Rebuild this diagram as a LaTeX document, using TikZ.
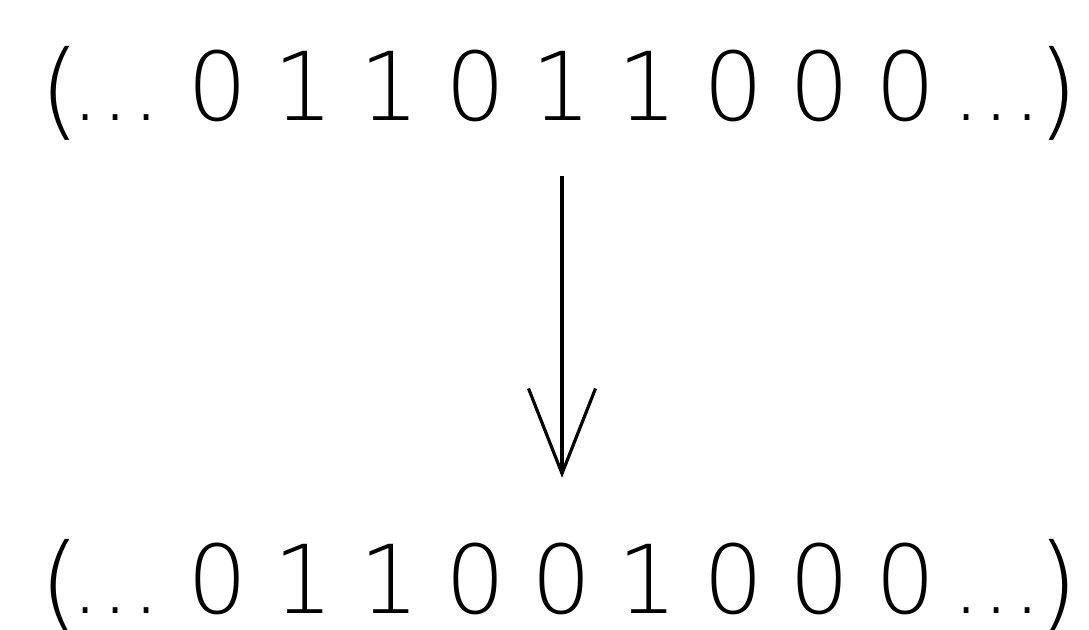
\documentclass[tikz,border=0pt]{standalone}
\usepackage{fontspec}
\IfFontExistsTF{DejaVuSans-ExtraLight.ttf}
  {\setmainfont{DejaVuSans-ExtraLight.ttf}}
  {\setmainfont{DejaVu Sans}}
\usetikzlibrary{arrows.meta}

\tikzset{
  bit/.style={font=\fontsize{27}{27}\selectfont, inner sep=0pt, anchor=base},
  brk/.style={font=\fontsize{30}{30}\selectfont, inner sep=0pt, anchor=base},
}

\begin{document}
\begin{tikzpicture}[x=0.01cm,y=-0.01cm]
\useasboundingbox (0,0) rectangle (1089,629);

% upper word
\node[brk] (tl) at (60,126) {(};
\node[bit] (tdl) at (116,120) {...};
\foreach \b [count=\i] in {0,1,1,0,1,1,0,0,0}
  \node[bit] (t\i) at (132+86*\i,120) {\b};
\node[bit] (tdr) at (997,120) {...};
\node[brk] (tr) at (1058,126) {)};

% lower word
\node[brk] (bl) at (60,619) {(};
\node[bit] (bdl) at (116,613) {...};
\foreach \b [count=\i] in {0,1,1,0,0,1,0,0,0}
  \node[bit] (b\i) at (132+86*\i,613) {\b};
\node[bit] (bdr) at (997,613) {...};
\node[brk] (br) at (1058,619) {)};

\draw[line width=0.9pt, shorten <=0.55cm, shorten >=0.64cm,
  -{Straight Barb[length=0.85cm, width=0.67cm, line width=0.9pt]}] (t5.south) -- (b5.north);

\end{tikzpicture}
\end{document}
